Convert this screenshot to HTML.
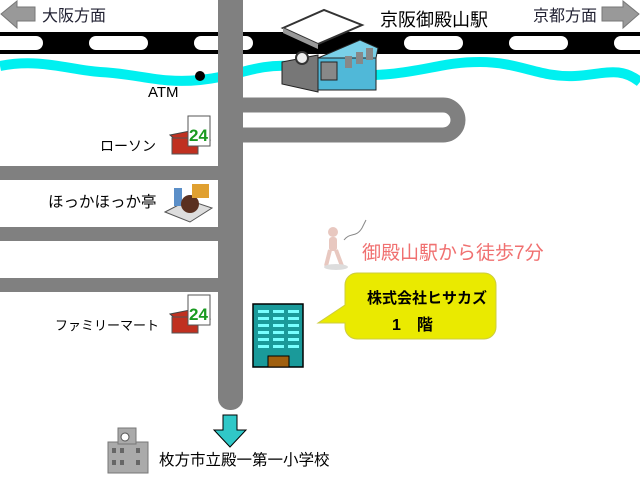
<!DOCTYPE html>
<html><head><meta charset="utf-8"><style>
body{margin:0;background:#fff}
svg{display:block}
text{font-family:"Liberation Sans","Noto Sans CJK JP",sans-serif}
</style></head><body>
<svg width="640" height="480" viewBox="0 0 640 480" xmlns="http://www.w3.org/2000/svg">
<rect width="640" height="480" fill="#fff"/>
<!-- railway -->
<rect x="0" y="32" width="640" height="22" fill="#000"/>
<g fill="#fff">
<rect x="-10" y="36" width="53" height="14" rx="7"/>
<rect x="89" y="36" width="59" height="14" rx="7"/>
<rect x="194" y="36" width="59" height="14" rx="7"/>
<rect x="404" y="36" width="59" height="14" rx="7"/>
<rect x="509" y="36" width="59" height="14" rx="7"/>
<rect x="614" y="36" width="60" height="14" rx="7"/>
</g>
<!-- river -->
<path d="M0,66 C40,58 70,70 100,72 C140,74 160,84 200,80 C240,76 255,64 290,66 C330,68 350,78 390,74 C430,70 445,62 480,62 C520,62 540,78 575,76 C605,74 620,66 640,82" fill="none" stroke="#00f0f0" stroke-width="10"/>
<!-- roads -->
<g fill="#808080">
<rect x="0" y="166" width="220" height="14"/>
<rect x="0" y="227" width="220" height="14"/>
<rect x="0" y="278" width="220" height="14"/>
<rect x="218" y="0" width="25" height="410" rx="12"/>
<rect x="218" y="0" width="25" height="395"/>
</g>
<path d="M243,105 H443 a15,15 0 0 1 0,30 H243" fill="none" stroke="#808080" stroke-width="15"/>
<!-- ATM dot -->
<circle cx="200" cy="76" r="5" fill="#000"/>
<!-- station -->
<g>
<polygon points="283,28 324,10 362,25 318,44" fill="#fff" stroke="#333" stroke-width="2"/>
<polygon points="283,28 318,44 318,49 283,33" fill="#999"/>
<polygon points="282,62 318,55 318,92 282,84" fill="#777" stroke="#222"/>
<circle cx="302" cy="58" r="6" fill="#eee" stroke="#333" stroke-width="2"/>
<rect x="318" y="58" width="58" height="32" fill="#50b8d8" stroke="#222"/>
<polygon points="318,58 360,40 378,48 376,58" fill="#7ad0e8" stroke="#222"/>
<rect x="321" y="62" width="16" height="18" fill="#888" stroke="#222"/>
<rect x="345" y="56" width="7" height="12" fill="#888"/>
<rect x="356" y="52" width="7" height="12" fill="#888"/>
<rect x="366" y="48" width="7" height="12" fill="#888"/>
</g>
<!-- arrows top -->
<polygon points="1,14 17,1 17,7 35,7 35,21 17,21 17,28" fill="#999" stroke="#777"/>
<polygon points="639,14 623,1 623,7 602,7 602,21 623,21 623,28" fill="#999" stroke="#777"/>
<text x="42" y="21" font-size="16" fill="#223">大阪方面</text>
<text x="533" y="21" font-size="16" fill="#223">京都方面</text>
<text x="380" y="26" font-size="18" fill="#000">京阪御殿山駅</text>
<text x="148" y="97" font-size="15">ATM</text>
<text x="100" y="151" font-size="14">ローソン</text>
<text x="48" y="207" font-size="15.5">ほっかほっか亭</text>
<text x="55" y="330" font-size="13">ファミリーマート</text>
<!-- 24 icons -->
<g>
<polygon points="170,135 195,130 210,140 185,148" fill="#c03020" stroke="#444"/>
<rect x="172" y="138" width="26" height="16" fill="#c03020" stroke="#555"/>
<rect x="188" y="116" width="22" height="30" fill="#fff" stroke="#555"/>
<text x="189" y="141" font-size="17" font-weight="bold" fill="#1a9a20">24</text>
</g>
<g>
<polygon points="170,314 195,309 210,319 185,327" fill="#c03020" stroke="#444"/>
<rect x="172" y="317" width="26" height="16" fill="#c03020" stroke="#555"/>
<rect x="188" y="295" width="22" height="30" fill="#fff" stroke="#555"/>
<text x="189" y="320" font-size="17" font-weight="bold" fill="#1a9a20">24</text>
</g>
<!-- bento -->
<g>
<polygon points="165,212 190,222 212,208 188,200" fill="#ddd" stroke="#555"/>
<rect x="174" y="188" width="8" height="18" fill="#5b8fc8"/>
<circle cx="190" cy="204" r="9" fill="#5a3020"/>
<rect x="192" y="184" width="17" height="14" fill="#e0a030"/>
</g>
<!-- walker -->
<g fill="#e8c8c0">
<circle cx="333" cy="232" r="5"/>
<rect x="329" y="237" width="8" height="14" rx="3"/>
<path d="M330,250 L326,266 M336,250 L342,266" stroke="#e8c8c0" stroke-width="4"/>
<ellipse cx="336" cy="267" rx="12" ry="3" fill="#ddd"/>
</g>
<path d="M344,240 C350,232 356,238 362,228 L366,220" fill="none" stroke="#888"/>
<text x="362" y="259" font-size="19" fill="#f07070">御殿山駅から徒歩7分</text>
<!-- building -->
<rect x="253" y="304" width="50" height="63" fill="#1a9a9a" stroke="#000" stroke-width="1.5"/>
<g fill="#7ff">
<rect x="258" y="310" width="11" height="3"/><rect x="273" y="310" width="11" height="3"/><rect x="288" y="310" width="11" height="3"/>
<rect x="258" y="317" width="11" height="3"/><rect x="273" y="317" width="11" height="3"/><rect x="288" y="317" width="11" height="3"/>
<rect x="258" y="324" width="11" height="3"/><rect x="273" y="324" width="11" height="3"/><rect x="288" y="324" width="11" height="3"/>
<rect x="258" y="331" width="11" height="3"/><rect x="273" y="331" width="11" height="3"/><rect x="288" y="331" width="11" height="3"/>
<rect x="258" y="338" width="11" height="3"/><rect x="273" y="338" width="11" height="3"/><rect x="288" y="338" width="11" height="3"/>
<rect x="258" y="345" width="11" height="3"/><rect x="273" y="345" width="11" height="3"/><rect x="288" y="345" width="11" height="3"/>
</g>
<rect x="268" y="356" width="21" height="11" fill="#a06010" stroke="#000"/>
<!-- callout -->
<path d="M357,273 H484 a12,12 0 0 1 12,12 V327 a12,12 0 0 1 -12,12 H357 a12,12 0 0 1 -12,-12 V323 L318,323 L345,305 V285 a12,12 0 0 1 12,-12 Z" fill="#eaea00" stroke="#cccc40"/>
<text x="367" y="303" font-size="15" font-weight="bold" fill="#000">株式会社ヒサカズ</text>
<text x="392" y="330" font-size="16" font-weight="bold" fill="#000">1　階</text>
<!-- down arrow -->
<polygon points="223,415 237,415 237,430 246,430 230,447 214,430 223,430" fill="#30c8c8" stroke="#000"/>
<!-- school -->
<g fill="#aaa" stroke="#777">
<rect x="108" y="442" width="40" height="31"/>
<rect x="118" y="428" width="18" height="16"/>
</g>
<circle cx="125" cy="437" r="4" fill="#fff" stroke="#555"/>
<g fill="#666"><rect x="112" y="448" width="4" height="5"/><rect x="120" y="448" width="4" height="5"/><rect x="136" y="448" width="4" height="5"/><rect x="112" y="460" width="4" height="5"/><rect x="120" y="460" width="4" height="5"/><rect x="136" y="460" width="4" height="5"/></g>
<text x="159" y="465" font-size="15.5">枚方市立殿一第一小学校</text>
</svg>
</body></html>
